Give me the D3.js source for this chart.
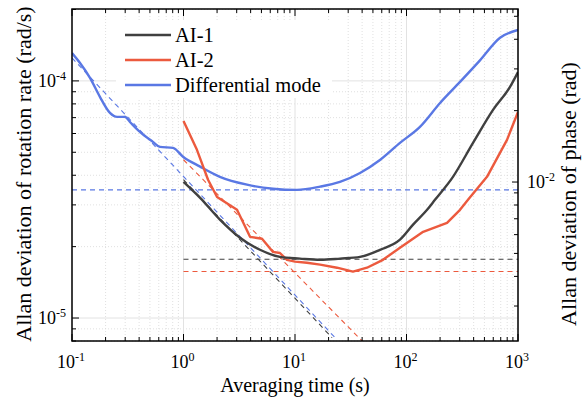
<!DOCTYPE html>
<html>
<head>
<meta charset="utf-8">
<script src="https://cdn.jsdelivr.net/npm/d3@7/dist/d3.min.js"></script>
<style>
  body { margin: 0; background: #fff; }
  svg { display: block; font-family: "Liberation Serif", "Times New Roman", serif; }
</style>
</head>
<body>
<div id="chart"></div>
<script>
// averaging time (s) and Allan deviation of rotation rate (rad/s)
const tauAI1 = [1.0, 1.41, 2.12, 3.21, 4.85, 7.33, 11.1, 16.8, 25.3, 38.3, 57.8, 87.4, 114, 153, 180, 261, 395, 597, 848, 1000];
const adevAI1 = [3.75e-5, 3.21e-5, 2.60e-5, 2.18e-5, 1.94e-5, 1.81e-5, 1.78e-5, 1.76e-5, 1.78e-5, 1.81e-5, 1.94e-5, 2.14e-5, 2.47e-5, 2.86e-5, 3.15e-5, 3.94e-5, 5.48e-5, 7.55e-5, 9.44e-5, 1.09e-4];

const tauAI2 = [1.0, 1.32, 1.66, 2.0, 3.02, 3.95, 5.06, 6.35, 7.33, 8.47, 10.0, 12.8, 16.8, 23.8, 33.1, 44.2, 61.5, 87.4, 141, 231, 302, 356, 527, 797, 1000];
const adevAI2 = [6.78e-5, 5.12e-5, 3.83e-5, 3.24e-5, 2.86e-5, 2.20e-5, 2.16e-5, 1.90e-5, 1.88e-5, 1.76e-5, 1.73e-5, 1.71e-5, 1.68e-5, 1.63e-5, 1.57e-5, 1.63e-5, 1.76e-5, 1.98e-5, 2.31e-5, 2.52e-5, 2.86e-5, 3.15e-5, 3.94e-5, 5.64e-5, 7.40e-5];

const tauDiff = [0.1, 0.118, 0.145, 0.178, 0.219, 0.254, 0.299, 0.331, 0.407, 0.532, 0.615, 0.805, 0.99, 1.41, 2.12, 3.71, 6.35, 10.4, 16.8, 25.3, 38.3, 57.8, 87.4, 132, 200, 302, 456, 690, 1000];
const adevDiff = [1.31e-4, 1.19e-4, 1.03e-4, 8.57e-5, 7.33e-5, 7.05e-5, 7.05e-5, 6.71e-5, 6.09e-5, 5.53e-5, 5.27e-5, 5.22e-5, 4.79e-5, 4.35e-5, 3.94e-5, 3.65e-5, 3.51e-5, 3.47e-5, 3.58e-5, 3.75e-5, 4.09e-5, 4.64e-5, 5.48e-5, 6.40e-5, 8.07e-5, 9.90e-5, 1.22e-4, 1.52e-4, 1.64e-4];

// dashed guide lines, given by their two end points
const fitAI1 = {tau: [1, 21.5], slope: [3.83e-5, 8.26e-6], floorTau: [1, 1000], floor: [1.77e-5, 1.77e-5]};
const fitAI2 = {tau: [1, 40], slope: [4.65e-5, 8.0e-6], floorTau: [1, 1000], floor: [1.57e-5, 1.57e-5]};
const fitDiff = {tau: [0.1, 22.9], slope: [1.25e-4, 8.26e-6], floorTau: [0.1, 1000], floor: [3.47e-5, 3.47e-5]};

const seriesNames = ['AI-1', 'AI-2', 'Differential mode'];
const xTickLabels = ['-1', '0', '1', '2', '3'];
const yTickLabels = ['-5', '-4'];
const phaseTickLabels = ['-2'];

const width = 582, height = 399;
const margin = {left: 72, right: 64, top: 9, bottom: 58};
const colors = ['#404040', '#ec5a3e', '#5a78e4'];

const svg = d3.select('#chart').append('svg')
    .attr('width', width)
    .attr('height', height);

const x = d3.scaleLog()
    .domain([0.1, 1000])
    .range([margin.left, width - margin.right]);

const y = d3.scaleLog()
    .domain([8.0e-6, 2.01e-4])
    .range([height - margin.bottom, margin.top]);

// phase axis: same decade size, shifted
const phaseFactor = 267;
const yPhase = d3.scaleLog()
    .domain(y.domain().map(v => v*phaseFactor))
    .range(y.range());

const x0 = x.range()[0], x1 = x.range()[1];
const y0 = y.range()[0], y1 = y.range()[1];

// tick value lists
const decades = (lo, hi) => d3.range(lo, hi + 1).map(e => Math.pow(10, e));
const minors = (lo, hi, domain) => {
  const out = [];
  for (let e = lo; e <= hi; e++) {
    for (let m = 2; m <= 9; m++) {
      const v = m*Math.pow(10, e);
      if (v >= domain[0] && v <= domain[1]) out.push(v);
    }
  }
  return out;
};

const xMajor = decades(-1, 3);
const xMinor = minors(-1, 2, x.domain());
const yMajor = decades(-5, -4);
const yMinor = minors(-6, -4, y.domain());
const pMajor = decades(-2, -2);
const pMinor = minors(-3, -2, yPhase.domain());

// grid
const grid = svg.append('g');
grid.selectAll('line.xmin').data(xMinor).enter().append('line')
    .attr('x1', d => x(d)).attr('x2', d => x(d))
    .attr('y1', y0).attr('y2', y1)
    .attr('stroke', '#d8d8d8').attr('stroke-width', 0.8)
    .attr('stroke-dasharray', '1,2');
grid.selectAll('line.ymin').data(yMinor).enter().append('line')
    .attr('x1', x0).attr('x2', x1)
    .attr('y1', d => y(d)).attr('y2', d => y(d))
    .attr('stroke', '#d8d8d8').attr('stroke-width', 0.8)
    .attr('stroke-dasharray', '1,2');
grid.selectAll('line.xmaj').data(xMajor).enter().append('line')
    .attr('x1', d => x(d)).attr('x2', d => x(d))
    .attr('y1', y0).attr('y2', y1)
    .attr('stroke', '#e2e2e2').attr('stroke-width', 1);
grid.selectAll('line.ymaj').data(yMajor).enter().append('line')
    .attr('x1', x0).attr('x2', x1)
    .attr('y1', d => y(d)).attr('y2', d => y(d))
    .attr('stroke', '#e2e2e2').attr('stroke-width', 1);

// clip for data
svg.append('clipPath').attr('id', 'plotclip')
  .append('rect')
    .attr('x', x0).attr('y', y1)
    .attr('width', x1 - x0).attr('height', y0 - y1);

const plot = svg.append('g').attr('clip-path', 'url(#plotclip)');

// dashed guides
const fits = [fitAI1, fitAI2, fitDiff];
fits.forEach((f, i) => {
  const straight = d3.line().x(d => x(d[0])).y(d => y(d[1]));
  plot.append('path')
      .attr('d', straight(d3.zip(f.tau, f.slope)))
      .attr('fill', 'none').attr('stroke', colors[i])
      .attr('stroke-width', 1.1).attr('stroke-dasharray', '5,4');
  plot.append('path')
      .attr('d', straight(d3.zip(f.floorTau, f.floor)))
      .attr('fill', 'none').attr('stroke', colors[i])
      .attr('stroke-width', 1.1).attr('stroke-dasharray', '5,4');
});

// curves
const smooth = d3.line().x(d => x(d[0])).y(d => y(d[1])).curve(d3.curveMonotoneX);
const jagged = d3.line().x(d => x(d[0])).y(d => y(d[1]));

plot.append('path')
    .attr('d', smooth(d3.zip(tauDiff, adevDiff)))
    .attr('fill', 'none').attr('stroke', colors[2]).attr('stroke-width', 2.4);
plot.append('path')
    .attr('d', jagged(d3.zip(tauAI2, adevAI2)))
    .attr('fill', 'none').attr('stroke', colors[1]).attr('stroke-width', 2.4)
    .attr('stroke-linejoin', 'round');
plot.append('path')
    .attr('d', smooth(d3.zip(tauAI1, adevAI1)))
    .attr('fill', 'none').attr('stroke', colors[0]).attr('stroke-width', 2.4);

// ticks (inward)
const ticks = svg.append('g').attr('stroke', '#000').attr('stroke-width', 1);
const addTicks = (vals, len, fn) => vals.forEach(v => {
  const t = fn(v, len);
  ticks.append('line').attr('x1', t[0]).attr('y1', t[1]).attr('x2', t[2]).attr('y2', t[3]);
});
addTicks(xMajor, 7, (v, l) => [x(v), y0, x(v), y0 - l]);
addTicks(xMinor, 4, (v, l) => [x(v), y0, x(v), y0 - l]);
addTicks(xMajor, 7, (v, l) => [x(v), y1, x(v), y1 + l]);
addTicks(xMinor, 4, (v, l) => [x(v), y1, x(v), y1 + l]);
addTicks(yMajor, 7, (v, l) => [x0, y(v), x0 + l, y(v)]);
addTicks(yMinor, 4, (v, l) => [x0, y(v), x0 + l, y(v)]);
addTicks(pMajor, 6, (v, l) => [x1, yPhase(v), x1 - l, yPhase(v)]);
addTicks(pMinor, 4, (v, l) => [x1, yPhase(v), x1 - l, yPhase(v)]);

// frame
svg.append('rect')
    .attr('x', x0).attr('y', y1)
    .attr('width', x1 - x0).attr('height', y0 - y1)
    .attr('fill', 'none').attr('stroke', '#000').attr('stroke-width', 1.5);

// tick labels with superscript
const powLabel = (g, exp) => {
  g.append('tspan').text('10');
  g.append('tspan').attr('dy', -7).attr('font-size', 12).text(exp);
};

xMajor.forEach((v, i) => {
  const t = svg.append('text')
      .attr('x', x(v) - 1).attr('y', y0 + 27)
      .attr('text-anchor', 'middle').attr('font-size', 18);
  powLabel(t, xTickLabels[i]);
});
yMajor.forEach((v, i) => {
  const t = svg.append('text')
      .attr('x', x0 - 6).attr('y', y(v) + 6)
      .attr('text-anchor', 'end').attr('font-size', 18);
  powLabel(t, yTickLabels[i]);
});
pMajor.forEach((v, i) => {
  const t = svg.append('text')
      .attr('x', x1 + 9).attr('y', yPhase(v) + 6)
      .attr('text-anchor', 'start').attr('font-size', 18);
  powLabel(t, phaseTickLabels[i]);
});

// axis titles
svg.append('text')
    .attr('x', (x0 + x1)/2).attr('y', 392)
    .attr('text-anchor', 'middle').attr('font-size', 20)
    .text('Averaging time (s)');
svg.append('text')
    .attr('transform', 'translate(31,174) rotate(-90)')
    .attr('text-anchor', 'middle').attr('font-size', 22)
    .text('Allan deviation of rotation rate (rad/s)');
svg.append('text')
    .attr('transform', 'translate(576,194) rotate(-90)')
    .attr('text-anchor', 'middle').attr('font-size', 22)
    .text('Allan deviation of phase (rad)');

// legend
const legend = svg.append('g').attr('transform', 'translate(116,20)');
legend.append('rect')
    .attr('x', 0).attr('y', 0).attr('width', 216).attr('height', 78)
    .attr('fill', '#fff');
seriesNames.forEach((name, i) => {
  const ly = 15 + i*25;
  legend.append('line')
      .attr('x1', 9).attr('x2', 55).attr('y1', ly).attr('y2', ly)
      .attr('stroke', colors[i]).attr('stroke-width', 2.4);
  legend.append('text')
      .attr('x', 59).attr('y', ly + 7)
      .attr('font-size', 20.5)
      .text(name);
});
</script>
</body>
</html>
